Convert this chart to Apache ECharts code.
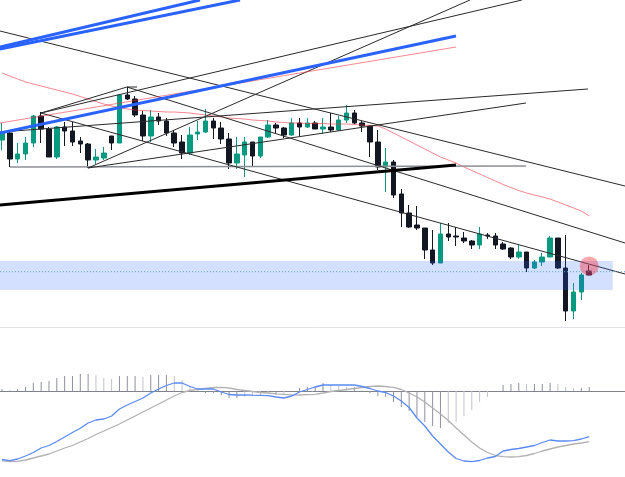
<!DOCTYPE html>
<html><head><meta charset="utf-8">
<script src="https://cdn.jsdelivr.net/npm/echarts@6/dist/echarts.min.js"></script>
<style>html,body{margin:0;padding:0;background:#fff}#c{width:625px;height:477px}</style>
</head><body><div id="c"></div>
<script>
// ---- price candles (bar index 0..75) ----
const opens  = [187,194,168,173,184,211,198,170,200,196, 186,183,167,169,191,184,232,228,212,191, 210,206,194,185,174,193,195,206,199,188, 164,172,185,171,190,202,199,192,204,200, 204,198,200,197,207,214,204,201,185,160, 165,133,114,102,99,77,64,93,91,89, 86,82,92,91,83,79,70,75,59,65, 70,89,59,16,35,56];
const closes = [194,168,173,184,211,198,170,200,196,185, 183,167,170,174,184,232,228,212,191,210, 206,194,184,174,192,195,206,199,188,164, 173,185,171,190,202,199,192,204,200,204, 198,200,197,207,214,204,201,185,160,165, 132,114,100,99,77,64,93,90,90,86, 82,93,91,82,78,70,75,59,65,70, 89,59,16,35,52,52];
const lows   = [177,160,164,167,180,184,170,168,181,181, 174,159,163,167,177,184,227,210,186,185, 202,191,180,168,172,187,194,188,183,158, 158,150,160,169,189,194,189,191,191,199, 198,193,195,196,204,203,195,170,157,135, 129,100,99,97,68,62,64,86,81,84, 78,78,88,78,77,68,68,55,58,61, 70,58,6,8,27,52];
const highs  = [204,196,184,190,212,215,200,201,205,205, 190,184,178,180,191,233,240,231,216,217, 214,209,197,192,200,206,218,209,205,194, 190,190,185,190,207,204,200,209,209,209, 206,209,214,211,222,217,206,202,197,179, 167,138,122,121,99,97,104,104,100,95, 87,100,94,94,85,80,82,75,67,74, 91,89,92,44,54,62];
const maValues = [254,251,248,245,243,241,239,237,235,233, 230.5,228,225.5,223,221,219.5,218,217,216.5,216, 215.5,215,215,214.5,214,213,212,211,210,209, 208.5,208,207,206.5,206,205,204.5,204,204,203.5, 203.5,203.5,203,203,203,202.5,202,201.5,201,198, 194,190,186,182,178,174,170,167,164,160, 156.5,153,149.5,146,142.5,139.5,136.5,134,132,130, 128,125,122,119,116,111];

// ---- MACD ----
const macdLine = [-68.5,-69.7,-68,-65,-61.5,-57,-54.5,-50.5,-46,-41.5, -37.3,-32,-29,-28,-25,-18,-14,-10.5,-7,-2, 2,5.5,8,8,4.5,2,2,2,-1,-3.5, -4,-4,-4.2,-4.3,-4.7,-6,-7,-5,-1,1.5, 4,6,6,6,6,6,4.5,2.5,0,-1.5, -5,-10,-16.5,-27,-35,-45,-53,-61,-67.5,-70, -70.7,-69.5,-67,-65.5,-60,-58.5,-57.5,-56,-54.5,-51.5, -49,-50,-50,-49.7,-48,-45.7];
const signalLine = [-69.8,-70.5,-70.3,-69,-67,-65,-63,-60,-57,-54.5, -51,-47.5,-43.5,-40,-36.5,-33,-29,-25,-21,-17, -13,-9,-5,-1.5,0.5,1.7,2.7,3.5,3.7,3, 1.5,0.5,-0.5,-1.5,-2,-2.8,-3.3,-3.8,-4,-3.6, -3.3,-2,-0.5,0.5,1.5,2.5,3.5,4.5,5,4.5, 3.7,1.5,-2,-6,-11,-17,-23,-29.5,-37,-44, -51,-57,-61.5,-64.5,-65.7,-66,-65.7,-64.5,-62.5,-60, -58,-56,-54.5,-53,-52,-50.7];
const histogram = [2,1,2,4,8,9,10,13,15,15, 17,17,16,13,12,15,15,15,14,16, 16,16,15,11,4,1,-2,-2,-4,-7, -7,-6,-5,-4,-3,-4,-3,0,3,4, 5,8,6,5,4,4,1,-2,-5,-6, -11,-16,-20,-26,-31,-35,-37,-32,-31,-25, -19,-11,-6,0,6,7,8,7,7,7, 8,7,4,3,3,4];

// ---- drawings: [barIndex1, price1, barIndex2, price2] ----
const thinTrendLines = [
  [-0.26,296, 79.57,141],
  [15.96,240, 79.57,84],
  [4.98,214, 79.57,53],
  [4.98,214, 66.41,327],
  [10.98,159, 59.77,327],
  [-0.26,195, 74.84,238],
  [10.98,159, 66.92,224],
  [4.98,214, 15.96,240],
  [15.96,240, 17.24,240]
];
const grayTrendLines = [[1.02,160, 66.92,161]];
const boldTrendLines = [[-0.26,122, 57.98,162]];
const blueTrendLines = [[-0.26,194, 57.98,291],[-0.26,280, 25.29,327],[-0.26,278, 30.40,327]];
const redTrendLines  = [[-0.26,204, 57.98,280]];
const zone = [-0.26, 37, 78.0, 66];   // x0, low, x1, high
const zoneLevel = 55.3;
const markerPoint = [75, 61];

const X_MIN = -0.255, X_MAX = 79.57;

const chart = echarts.init(document.getElementById('c'), null, {renderer:'canvas'});
const hiddenAxis = {axisLine:{show:false}, axisTick:{show:false}, axisLabel:{show:false}, splitLine:{show:false}};

function segSeries(list, color, width, z, extra) {
  return list.map(s => Object.assign({
    type:'line', xAxisIndex:0, yAxisIndex:0, data:[[s[0],s[1]],[s[2],s[3]]],
    symbol:'none', silent:true, z:z, animation:false,
    lineStyle:{color:color, width:width}
  }, extra||{}));
}

const series = [];
series.push({
  type:'candlestick', xAxisIndex:0, yAxisIndex:0,
  data: opens.map((o,i)=>[i,o,closes[i],lows[i],highs[i]]),
  encode:{x:0, y:[1,2,3,4]},
  barWidth:5, z:2,
  itemStyle:{color:'#089981', color0:'#131722', borderColor:'#089981', borderColor0:'#131722', borderWidth:1}
});
series.push({
  type:'line', xAxisIndex:0, yAxisIndex:0, data: maValues.map((v,i)=>[i,v]),
  symbol:'none', z:3, lineStyle:{color:'rgba(242,54,69,0.6)', width:1}
});
series.push(...segSeries(grayTrendLines,'#8c8f96',1.5,4));
series.push(...segSeries(thinTrendLines,'#2a2a2a',1,4));
series.push(...segSeries(boldTrendLines,'#000000',3,4));
series.push(...segSeries(redTrendLines,'rgba(242,54,69,0.6)',1,4));
series.push(...segSeries(blueTrendLines,'#2962ff',3,4));
series.push({
  type:'custom', xAxisIndex:0, yAxisIndex:0, z:5, silent:true,
  data:[zone], encode:{x:[0,2], y:[1,3]},
  renderItem:function(params, api){
    const p1 = api.coord([api.value(0), api.value(3)]);
    const p2 = api.coord([api.value(2), api.value(1)]);
    return {type:'rect', shape:{x:p1[0], y:p1[1], width:p2[0]-p1[0], height:p2[1]-p1[1]}, style:{fill:'rgba(41,98,255,0.2)'}};
  }
});
series.push({
  type:'line', xAxisIndex:0, yAxisIndex:0, data:[[X_MIN,zoneLevel],[X_MAX,zoneLevel]],
  symbol:'none', z:6, silent:true, lineStyle:{color:'#58a6d6', width:1, type:[1,2]}
});
series.push({
  type:'scatter', xAxisIndex:0, yAxisIndex:0, data:[markerPoint], symbolSize:19, z:7,
  itemStyle:{color:'rgba(242,54,69,0.55)'}
});
// MACD pane
series.push({
  type:'bar', xAxisIndex:1, yAxisIndex:1, barWidth:1, z:2,
  data: histogram.map((v,i)=>({value:[i,v], itemStyle:{color: (i>0 && Math.abs(v) < Math.abs(histogram[i-1])) ? '#c2c4ca' : '#8e9199'}}))
});
series.push({
  type:'line', xAxisIndex:1, yAxisIndex:1, data: signalLine.map((v,i)=>[i,v]),
  symbol:'none', z:3, lineStyle:{color:'#b2b2b2', width:1.3}
});
series.push({
  type:'line', xAxisIndex:1, yAxisIndex:1, data: macdLine.map((v,i)=>[i,v]),
  symbol:'none', z:4, lineStyle:{color:'#5b8af5', width:1.3}
});

chart.setOption({
  animation:false,
  backgroundColor:'#ffffff',
  grid:[{left:0, top:0, width:625, height:327}, {left:0, top:330, width:625, height:147}],
  xAxis:[
    {type:'value', gridIndex:0, min:X_MIN, max:X_MAX, position:'bottom',
     axisLine:{show:true, onZero:false, lineStyle:{color:'#e0e3eb', width:1}}, axisTick:{show:false}, axisLabel:{show:false}, splitLine:{show:false}},
    {type:'value', gridIndex:1, min:X_MIN, max:X_MAX,
     axisLine:{show:true, onZero:true, lineStyle:{color:'#80838c', width:1}}, axisTick:{show:false}, axisLabel:{show:false}, splitLine:{show:false}}
  ],
  yAxis:[
    Object.assign({type:'value', gridIndex:0, min:0, max:327}, hiddenAxis),
    Object.assign({type:'value', gridIndex:1, min:-86, max:61}, hiddenAxis)
  ],
  series: series
});
</script>
</body></html>
